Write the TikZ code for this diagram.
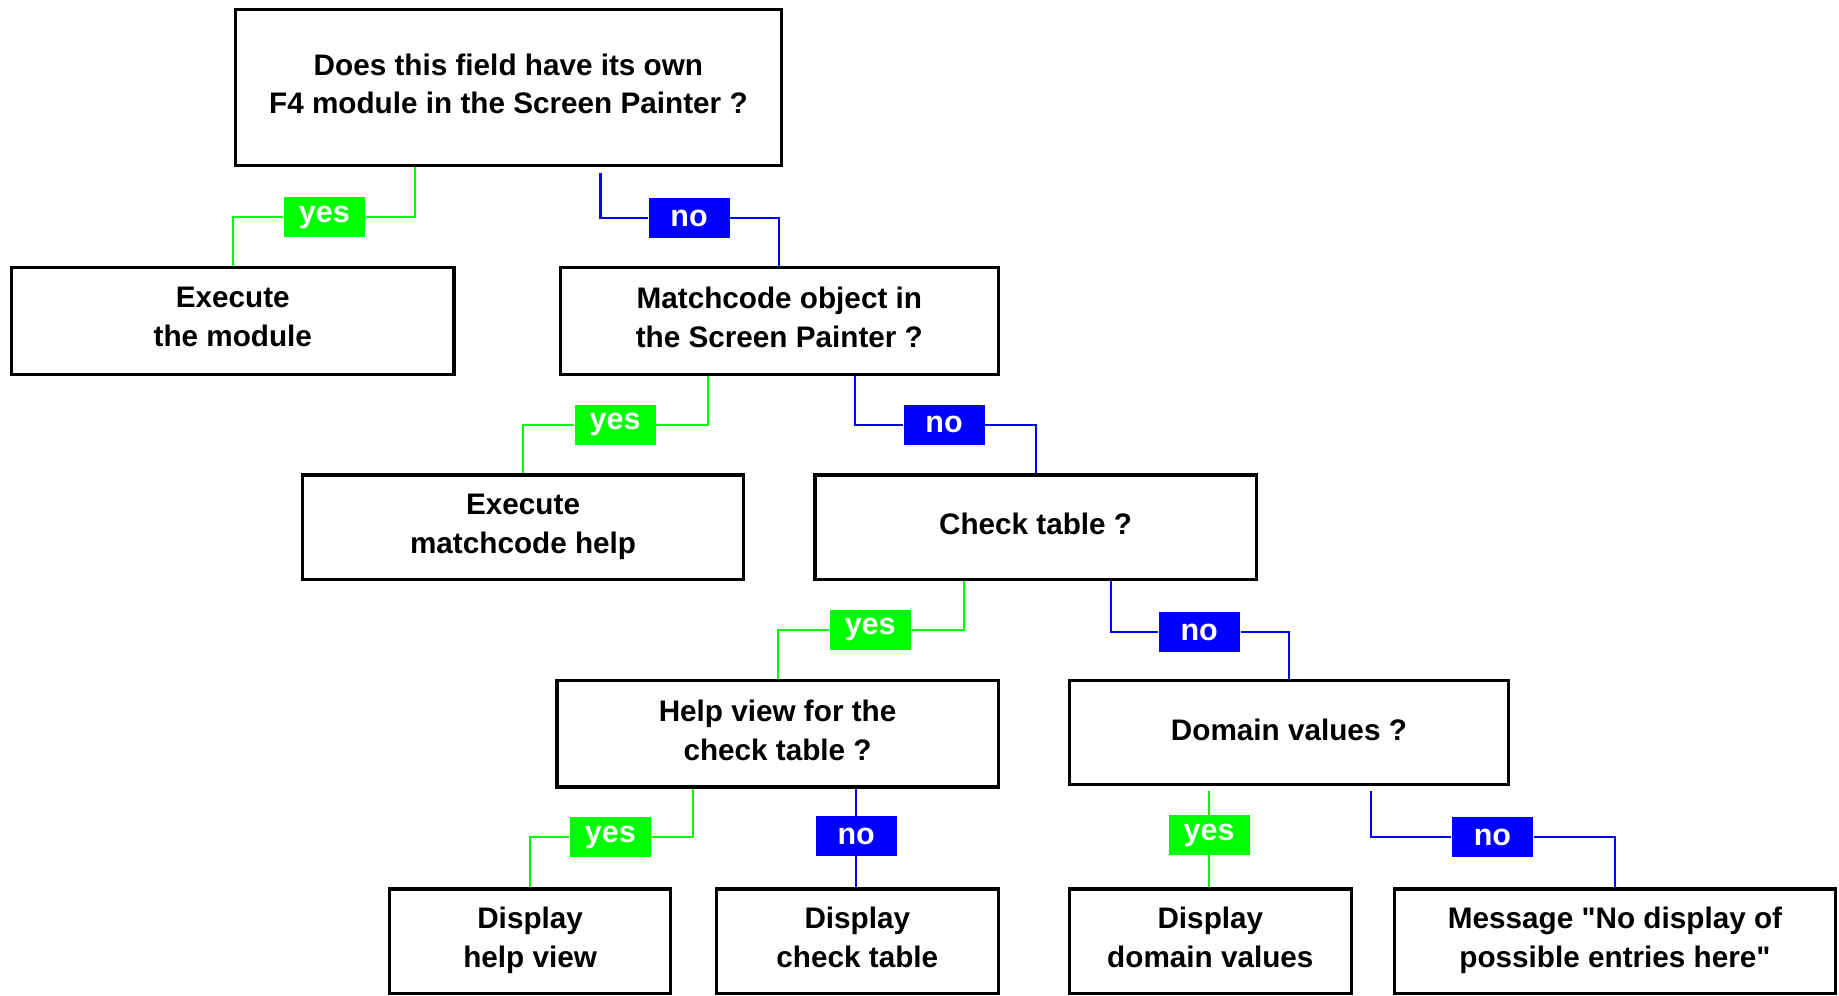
\documentclass[tikz,border=0pt]{standalone}
\usepackage{fontspec}
\setmainfont{Liberation Sans}[Ligatures=TeXOff]
\usetikzlibrary{calc,backgrounds}
\definecolor{yesgreen}{RGB}{0,255,0}
\definecolor{noblue}{RGB}{0,0,255}
\begin{document}
\begin{tikzpicture}[x=0.01cm,y=-0.01cm,
  box/.style={draw=black, line width=0.75pt, rectangle, inner sep=0pt, align=center,
    font=\fontsize{7.2}{9.4}\selectfont\bfseries,
    % fixed first-line height and last-line depth keep the text evenly placed
    execute at begin node={\rule{0pt}{5.5pt}},
    execute at end node={\rule[-1.8pt]{0pt}{1.8pt}}},
  wide/.style={minimum width=3.76cm},
  narrow/.style={minimum width=2.40cm},
  yesline/.style={draw=yesgreen, line width=0.5pt},
  noline/.style={draw=noblue, line width=0.5pt},
  tag/.style={inner sep=0pt, minimum width=0.69cm, minimum height=0.34cm, text=white,
    font=\fontsize{7.4}{8}\selectfont\bfseries},
  yestag/.style={tag, fill=yesgreen},
  notag/.style={tag, fill=noblue}
]
\useasboundingbox (0,0) rectangle (1568,849);

% decision and action boxes
\node[box, minimum width=4.65cm, minimum height=1.33cm] (q1) at (433.5,74.5)
  {Does this field have its own\\F4 module in the Screen Painter ?};
\node[box, minimum width=3.77cm, minimum height=0.91cm] (a1) at (198.5,273.5)
  {Execute\\the module};
\node[box, minimum width=3.73cm, minimum height=0.91cm] (q2) at (664.5,273.5)
  {Matchcode object in\\the Screen Painter ?};
\node[box, wide, minimum height=0.89cm] (a2) at (446,449.5)
  {Execute\\matchcode help};
\node[box, wide, minimum height=0.89cm] (q3) at (883,449.5)
  {Check table ?};
\node[box, wide, minimum height=0.91cm] (q4) at (663,625.5)
  {Help view for the\\check table ?};
\node[box, minimum width=3.74cm, minimum height=0.89cm] (q5) at (1099,624.5)
  {Domain values ?};
\node[box, narrow, minimum height=0.89cm] (b1) at (452,802.5)
  {Display\\help view};
\node[box, narrow, minimum height=0.89cm] (b2) at (731,802.5)
  {Display\\check table};
\node[box, narrow, minimum height=0.89cm] (c1) at (1032,802.5)
  {Display\\domain values};
\node[box, wide, minimum height=0.89cm] (c2) at (1377,802.5)
  {Message "No display of\\possible entries here"};

% branch tags
\node[yestag] (y1) at (276.5,185) {yes};
\node[notag]  (n1) at (587.5,186) {no};
\node[yestag] (y2) at (524.5,362) {yes};
\node[notag]  (n2) at (805,362) {no};
\node[yestag] (y3) at (742,537) {yes};
\node[notag]  (n3) at (1022.5,539) {no};
\node[yestag] (y4) at (520.5,714) {yes};
\node[notag]  (n4) at (730,713) {no};
\node[yestag] (y5) at (1031,712) {yes};
\node[notag]  (n5) at (1272.5,714) {no};

% connectors behind the tags
\begin{pgfonlayer}{background}
\draw[yesline] ($(q1.south)+(-79.5,0)$) |- (y1) -| (a1.north);
\draw[noline]  ($(q1.south)+(78.5,5)$) |- (n1) -| (q2.north);
\draw[yesline] ($(q2.south)+(-60.5,0)$) |- (y2) -| (a2.north);
\draw[noline]  ($(q2.south)+(64.5,0)$) |- (n2) -| (q3.north);
\draw[yesline] ($(q3.south)+(-61,0)$) |- (y3) -| (q4.north);
\draw[noline]  ($(q3.south)+(64,0)$) |- (n3) -| (q5.north);
\draw[yesline] ($(q4.south)+(-72,0)$) |- (y4) -| (b1.north);
\draw[noline]  (n4 |- q4.south) -- (n4 |- b2.north);
\draw[yesline] ($(y5 |- q5.south)+(0,4)$) -- (y5 |- c1.north);
\draw[noline]  ($(q5.south)+(70,4)$) |- (n5) -| (c2.north);
\end{pgfonlayer}
\end{tikzpicture}
\end{document}
